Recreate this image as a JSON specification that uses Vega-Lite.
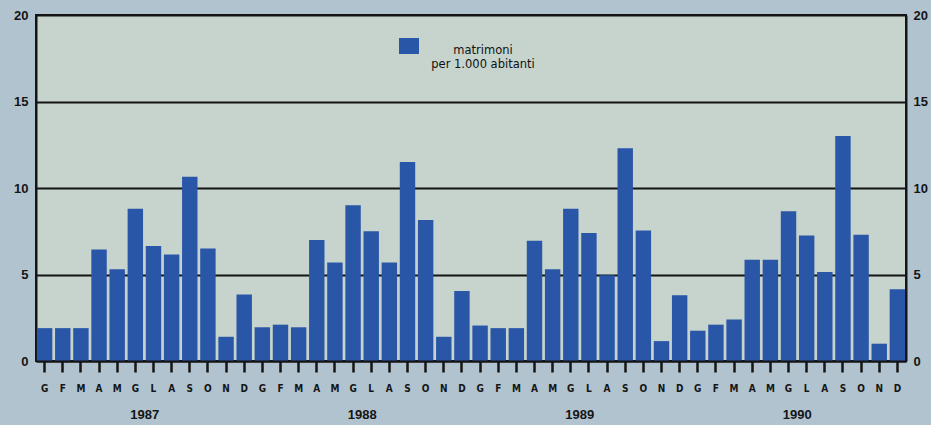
{
  "$schema": "https://vega.github.io/schema/vega-lite/v6.json",
  "width": 870,
  "height": 346,
  "autosize": {"type": "none"},
  "padding": {"left": 36, "top": 15, "right": 25, "bottom": 64},
  "background": "#b0c3cf",
  "config": {
    "view": {"fill": "#c6d4cd", "stroke": "#151515", "strokeWidth": 2},
    "font": "DejaVu Sans"
  },
  "data": {
    "values": [
      {"periodo": "1987-01-G", "anno": "1987", "valore": 1.9},
      {"periodo": "1987-02-F", "anno": "1987", "valore": 1.9},
      {"periodo": "1987-03-M", "anno": "1987", "valore": 1.9},
      {"periodo": "1987-04-A", "anno": "1987", "valore": 6.45},
      {"periodo": "1987-05-M", "anno": "1987", "valore": 5.3},
      {"periodo": "1987-06-G", "anno": "1987", "valore": 8.8},
      {"periodo": "1987-07-L", "anno": "1987", "valore": 6.65},
      {"periodo": "1987-08-A", "anno": "1987", "valore": 6.15},
      {"periodo": "1987-09-S", "anno": "1987", "valore": 10.65},
      {"periodo": "1987-10-O", "anno": "1987", "valore": 6.5},
      {"periodo": "1987-11-N", "anno": "1987", "valore": 1.4},
      {"periodo": "1987-12-D", "anno": "1987", "valore": 3.85},
      {"periodo": "1988-01-G", "anno": "1988", "valore": 1.95},
      {"periodo": "1988-02-F", "anno": "1988", "valore": 2.1},
      {"periodo": "1988-03-M", "anno": "1988", "valore": 1.95},
      {"periodo": "1988-04-A", "anno": "1988", "valore": 7.0},
      {"periodo": "1988-05-M", "anno": "1988", "valore": 5.7},
      {"periodo": "1988-06-G", "anno": "1988", "valore": 9.0},
      {"periodo": "1988-07-L", "anno": "1988", "valore": 7.5},
      {"periodo": "1988-08-A", "anno": "1988", "valore": 5.7},
      {"periodo": "1988-09-S", "anno": "1988", "valore": 11.5},
      {"periodo": "1988-10-O", "anno": "1988", "valore": 8.15},
      {"periodo": "1988-11-N", "anno": "1988", "valore": 1.4},
      {"periodo": "1988-12-D", "anno": "1988", "valore": 4.05},
      {"periodo": "1989-01-G", "anno": "1989", "valore": 2.05},
      {"periodo": "1989-02-F", "anno": "1989", "valore": 1.9},
      {"periodo": "1989-03-M", "anno": "1989", "valore": 1.9},
      {"periodo": "1989-04-A", "anno": "1989", "valore": 6.95},
      {"periodo": "1989-05-M", "anno": "1989", "valore": 5.3},
      {"periodo": "1989-06-G", "anno": "1989", "valore": 8.8},
      {"periodo": "1989-07-L", "anno": "1989", "valore": 7.4},
      {"periodo": "1989-08-A", "anno": "1989", "valore": 4.95},
      {"periodo": "1989-09-S", "anno": "1989", "valore": 12.3},
      {"periodo": "1989-10-O", "anno": "1989", "valore": 7.55},
      {"periodo": "1989-11-N", "anno": "1989", "valore": 1.15},
      {"periodo": "1989-12-D", "anno": "1989", "valore": 3.8},
      {"periodo": "1990-01-G", "anno": "1990", "valore": 1.75},
      {"periodo": "1990-02-F", "anno": "1990", "valore": 2.1},
      {"periodo": "1990-03-M", "anno": "1990", "valore": 2.4},
      {"periodo": "1990-04-A", "anno": "1990", "valore": 5.85},
      {"periodo": "1990-05-M", "anno": "1990", "valore": 5.85},
      {"periodo": "1990-06-G", "anno": "1990", "valore": 8.65},
      {"periodo": "1990-07-L", "anno": "1990", "valore": 7.25},
      {"periodo": "1990-08-A", "anno": "1990", "valore": 5.15},
      {"periodo": "1990-09-S", "anno": "1990", "valore": 13.0},
      {"periodo": "1990-10-O", "anno": "1990", "valore": 7.3},
      {"periodo": "1990-11-N", "anno": "1990", "valore": 1.0},
      {"periodo": "1990-12-D", "anno": "1990", "valore": 4.15}
    ]
  },
  "layer": [
    {
      "mark": {"type": "bar", "color": "#2a56a8"},
      "encoding": {
        "x": {
          "field": "periodo",
          "type": "ordinal",
          "sort": null,
          "scale": {"paddingInner": 0.15, "paddingOuter": 0.05},
          "axis": {
            "orient": "bottom",
            "title": null,
            "labelExpr": "split(datum.label, '-')[2]",
            "labelAngle": 0,
            "labelFont": "DejaVu Sans Condensed",
            "labelFontWeight": "bold",
            "labelFontSize": 10,
            "labelColor": "#151515",
            "labelPadding": 16,
            "labelBaseline": "middle",
            "ticks": true,
            "tickColor": "#151515",
            "tickOpacity": 1,
            "tickWidth": 2.5,
            "tickSize": 11,
            "domainColor": "#151515",
            "domainWidth": 2,
            "zindex": 1
          }
        },
        "y": {
          "field": "valore",
          "type": "quantitative",
          "scale": {"domain": [0, 20], "nice": false},
          "axis": {
            "orient": "left",
            "title": null,
            "values": [0, 5, 10, 15, 20],
            "grid": true,
            "gridColor": "#151515",
            "gridWidth": 2,
            "gridOpacity": 1,
            "ticks": false,
            "labelPadding": 8,
            "labelFont": "Liberation Sans",
            "labelFontWeight": "bold",
            "labelFontSize": 13,
            "labelColor": "#151515",
            "domainColor": "#151515",
            "domainWidth": 2
          }
        },
        "color": {
          "datum": "matrimoni per 1.000 abitanti",
          "scale": {"range": ["#2a56a8"]},
          "legend": {
            "orient": "none",
            "legendX": 363,
            "legendY": 26,
            "padding": 0,
            "title": null,
            "symbolType": "M-1,-1.3H1V0.3H-1Z",
            "symbolSize": 400,
            "symbolStrokeWidth": 0,
            "symbolOpacity": 1,
            "labelExpr": "['matrimoni', 'per 1.000 abitanti']",
            "labelAlign": "center",
            "labelOffset": 64,
            "labelFont": "DejaVu Sans",
            "labelFontSize": 11.5,
            "labelFontWeight": 500,
            "labelColor": "#111111",
            "labelLimit": 300
          }
        }
      }
    },
    {
      "mark": {"type": "bar", "opacity": 0},
      "encoding": {
        "x": {
          "field": "anno",
          "type": "ordinal",
          "scale": {"paddingInner": 0, "paddingOuter": 0},
          "axis": {
            "orient": "bottom",
            "title": null,
            "labelAngle": 0,
            "domain": false,
            "ticks": false,
            "grid": false,
            "labelPadding": 53,
            "labelBaseline": "middle",
            "labelFont": "Liberation Sans",
            "labelFontWeight": "bold",
            "labelFontSize": 13,
            "labelColor": "#151515"
          }
        },
        "y": {
          "field": "valore",
          "aggregate": "max",
          "type": "quantitative",
          "scale": {"domain": [0, 20], "nice": false},
          "axis": {
            "orient": "right",
            "title": null,
            "values": [0, 5, 10, 15, 20],
            "grid": false,
            "ticks": false,
            "labelPadding": 7,
            "labelFont": "Liberation Sans",
            "labelFontWeight": "bold",
            "labelFontSize": 13,
            "labelColor": "#151515",
            "domainColor": "#151515",
            "domainWidth": 2
          }
        }
      }
    }
  ],
  "resolve": {"scale": {"x": "independent"}, "axis": {"y": "independent"}}
}
